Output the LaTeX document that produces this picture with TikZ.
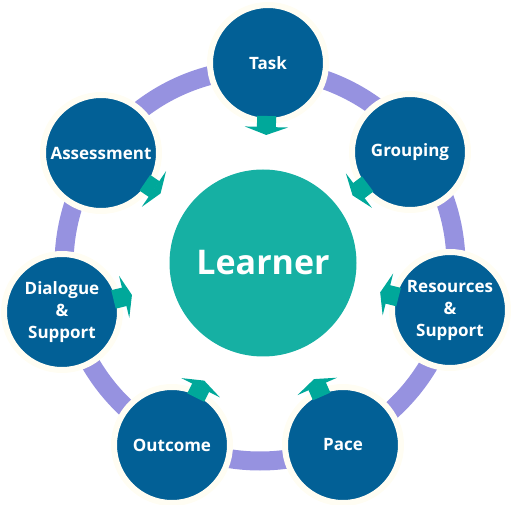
\documentclass[tikz,border=0pt]{standalone}
\usepackage{fontspec}
\setmainfont{Open Sans}
\usetikzlibrary{calc,arrows.meta}

\definecolor{stageblue}{RGB}{2,96,150}
\definecolor{learnerteal}{RGB}{22,176,163}
\definecolor{arrowteal}{RGB}{0,168,154}
\definecolor{ringlav}{RGB}{150,146,224}
\definecolor{halo}{RGB}{255,253,243}

\tikzset{
  stage/.style={circle,fill=stageblue,draw=halo,line width=6pt,minimum size=116pt,
    inner sep=0pt,align=center,text=white,font=\bfseries\fontsize{17}{22}\selectfont},
  hubnode/.style={circle,fill=learnerteal,minimum size=187pt,inner sep=0pt,
    text=white,font=\bfseries\fontsize{34}{40}\selectfont},
  ringband/.style={draw=ringlav,line width=19pt},
  flow/.style={draw=arrowteal,line width=19pt,-{Triangle[length=8pt,width=43pt]}},
}

\begin{document}
\begin{tikzpicture}[x=1pt,y=1pt]
  \useasboundingbox (0,0) rectangle (512,504);
  % outer ring
  \coordinate (hub) at (260,239);
  \draw[ringband] (hub) circle (196pt);

  \node[hubnode] (learner) at (263,241) {Learner};

  \node[stage] (task)       at (268,441) {Task};
  \node[stage] (grouping)   at (410,352) {Grouping};
  \node[stage] (resources)  at (450,194) {Resources\\\&\\Support};
  \node[stage] (pace)       at (343,59)  {Pace};
  \node[stage] (outcome)    at (172,59)  {Outcome};
  \node[stage] (dialogue)   at (62,192)  {Dialogue\\\&\\Support};
  \node[stage] (assessment) at (101,351) {Assessment};

  % arrows towards the learner
  \foreach \n in {task,grouping,resources,pace,outcome,dialogue,assessment}
    \draw[flow] ($(\n)!53pt!(learner)$) -- ($(\n)!72pt!(learner)$);
\end{tikzpicture}
\end{document}
